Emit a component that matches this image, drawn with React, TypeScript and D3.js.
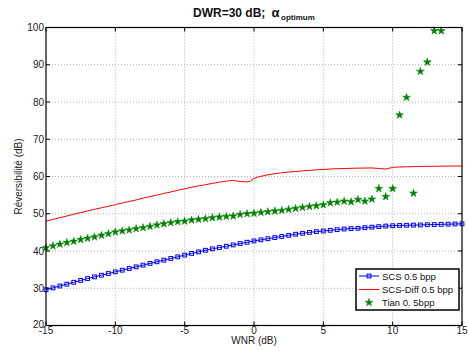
import React from "react";
import * as d3 from "d3";

const xTicks = [-15, -10, -5, 0, 5, 10, 15];
const yTicks = [20, 30, 40, 50, 60, 70, 80, 90, 100];

const scsX = d3.range(-15, 15.01, 0.5);
const scsY = [29.6, 30.1, 30.6, 31.1, 31.6, 32.1, 32.6, 33.05, 33.5, 33.95, 34.4, 34.85, 35.3, 35.75, 36.2, 36.67, 37.1, 37.55, 38.0, 38.43, 38.9, 39.35, 39.77, 40.2, 40.57, 40.93, 41.28, 41.63, 42.0, 42.35, 42.7, 43.0, 43.3, 43.6, 43.9, 44.2, 44.5, 44.75, 45.0, 45.2, 45.37, 45.55, 45.73, 45.9, 46.0, 46.1, 46.26, 46.4, 46.55, 46.7, 46.78, 46.85, 46.9, 46.95, 47.0, 47.06, 47.1, 47.15, 47.2, 47.25, 47.3];

const diffX = [-15, -14.5, -14, -13.5, -13, -12.5, -12, -11.5, -11, -10.5, -10, -9.5, -9, -8.5, -8, -7.5, -7, -6.5, -6, -5.5, -5, -4.5, -4, -3.5, -3, -2.5, -2, -1.5, -1, -0.5, -0.25, 0, 0.25, 0.5, 1, 1.5, 2, 2.5, 3, 3.5, 4, 4.5, 5, 5.5, 6, 6.5, 7, 7.5, 8, 8.5, 9, 9.5, 10, 10.5, 11, 11.5, 12, 12.5, 13, 13.5, 14, 14.5, 15];
const diffY = [48.0, 48.5, 48.95, 49.4, 49.85, 50.3, 50.75, 51.2, 51.6, 52.0, 52.45, 52.9, 53.3, 53.7, 54.2, 54.6, 55.0, 55.45, 55.85, 56.3, 56.7, 57.1, 57.5, 57.8, 58.15, 58.5, 58.75, 58.95, 58.65, 58.55, 58.8, 59.5, 59.8, 60.05, 60.45, 60.75, 61.0, 61.2, 61.35, 61.5, 61.65, 61.78, 61.9, 62.0, 62.08, 62.15, 62.2, 62.25, 62.27, 62.3, 62.15, 62.0, 62.45, 62.55, 62.6, 62.65, 62.7, 62.72, 62.75, 62.77, 62.8, 62.8, 62.82];

const tianX = d3.range(-15, 13.51, 0.5);
const tianY = [40.9, 41.37, 41.8, 42.26, 42.6, 43.05, 43.4, 43.76, 44.2, 44.65, 45.1, 45.36, 45.63, 46.0, 46.26, 46.6, 46.97, 47.3, 47.6, 47.85, 48.0, 48.3, 48.5, 48.66, 48.93, 49.1, 49.28, 49.37, 49.8, 50.0, 50.12, 50.35, 50.53, 50.7, 50.88, 51.15, 51.4, 51.68, 51.95, 52.13, 52.4, 52.93, 53.1, 53.37, 53.2, 53.8, 53.37, 53.9, 56.75, 54.6, 56.75, 76.5, 81.2, 55.5, 88.2, 90.7, 99.1, 99.1];

const legendLabels = ["SCS 0.5 bpp", "SCS-Diff 0.5 bpp", "Tian 0. 5bpp"];

const W = 468, H = 351;
const L = 46, R = 462, T = 27.5, B = 325.5;
const FONT = "'Liberation Sans', Arial, Helvetica, sans-serif";

export default function App() {
  const x = d3.scaleLinear().domain([-15, 15]).range([L, R]);
  const y = d3.scaleLinear().domain([20, 100]).range([B, T]);

  const line = d3.line<[number, number]>().x(d => x(d[0])).y(d => y(d[1]));
  const scsPts: [number, number][] = scsX.map((v, i) => [v, scsY[i]]);
  const diffPts: [number, number][] = diffX.map((v, i) => [v, diffY[i]]);
  const tianPts: [number, number][] = tianX.map((v, i) => [v, tianY[i]]);
  const star = d3.symbol().type(d3.symbolStar).size(19)();
  const sq = 3.8;

  const legX = 356, legY = 269, legW = 103, legH = 41;
  const rows = [276, 289.5, 302.5];

  return (
    <svg width={W} height={H} style={{ position: "absolute", left: 0, top: 0, background: "#fff" }} fontFamily={FONT}>
      <rect x={0} y={0} width={W} height={H} fill="#fff" />
      {xTicks.slice(1, -1).map(t => (
        <line key={"gx" + t} x1={x(t)} x2={x(t)} y1={T} y2={B} stroke="#9a9a9a" strokeWidth={0.8} strokeDasharray="1 2" />
      ))}
      {yTicks.slice(1, -1).map(t => (
        <line key={"gy" + t} x1={L} x2={R} y1={y(t)} y2={y(t)} stroke="#9a9a9a" strokeWidth={0.8} strokeDasharray="1 2" />
      ))}
      {xTicks.map(t => (
        <g key={"tx" + t}>
          <line x1={x(t)} x2={x(t)} y1={B} y2={B - 4} stroke="#000" />
          <line x1={x(t)} x2={x(t)} y1={T} y2={T + 4} stroke="#000" />
          <text x={x(t)} y={334} fontSize={10} textAnchor="middle" fill="#222">{t}</text>
        </g>
      ))}
      {yTicks.map(t => (
        <g key={"ty" + t}>
          <line x1={L} x2={L + 4} y1={y(t)} y2={y(t)} stroke="#000" />
          <line x1={R} x2={R - 4} y1={y(t)} y2={y(t)} stroke="#000" />
          <text x={L - 2} y={y(t) + (t === 20 ? 2.5 : 3.5)} fontSize={10} textAnchor="end" fill="#222">{t}</text>
        </g>
      ))}
      <path d={line(diffPts) || ""} fill="none" stroke="#ff0000" strokeWidth={1} />
      <path d={line(scsPts) || ""} fill="none" stroke="#0000ff" strokeWidth={1} />
      {scsPts.map((p, i) => (
        <rect key={"s" + i} x={x(p[0]) - sq / 2} y={y(p[1]) - sq / 2} width={sq} height={sq} fill="none" stroke="#0000ff" strokeWidth={1} />
      ))}
      {tianPts.map((p, i) => (
        <path key={"t" + i} d={star || ""} transform={`translate(${x(p[0])},${y(p[1])})`} fill="#008000" stroke="#008000" strokeWidth={0.5} />
      ))}
      <rect x={L} y={T} width={R - L} height={B - T} fill="none" stroke="#000" strokeWidth={1.2} />
      <rect x={legX} y={legY} width={legW} height={legH} fill="#fff" stroke="#000" strokeWidth={1.5} />
      <line x1={359} x2={379} y1={rows[0]} y2={rows[0]} stroke="#0000ff" />
      <rect x={369 - sq / 2} y={rows[0] - sq / 2} width={sq} height={sq} fill="none" stroke="#0000ff" />
      <line x1={359} x2={379} y1={rows[1]} y2={rows[1]} stroke="#ff0000" />
      <path d={star || ""} transform={`translate(369,${rows[2]})`} fill="#008000" stroke="#008000" strokeWidth={0.5} />
      {legendLabels.map((l, i) => (
        <text key={l} x={382} y={rows[i] + 3.5} fontSize={9.5} fill="#111">{l}</text>
      ))}
      <text x={254} y={344} fontSize={10} textAnchor="middle" fill="#222">WNR (dB)</text>
      <text transform={`translate(22,${(T + B) / 2}) rotate(-90)`} fontSize={10} textAnchor="middle" fill="#222">Réversibilité (dB)</text>
      <text x={193} y={16.5} fontSize={12} fontWeight="bold" fill="#111">DWR=30 dB;</text>
      <text x={271.5} y={16.5} fontSize={13} fontWeight="bold" fill="#111">α</text>
      <text x={281} y={19.5} fontSize={8} fontWeight="bold" fill="#111">optimum</text>
    </svg>
  );
}
